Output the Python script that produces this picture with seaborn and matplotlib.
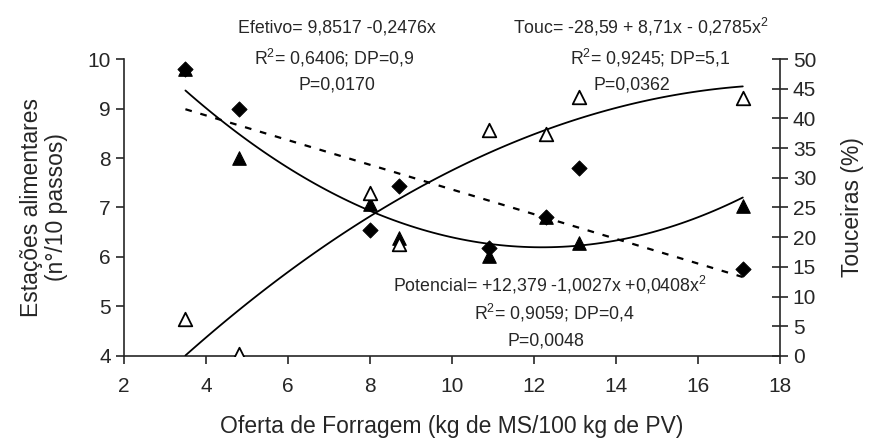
import matplotlib
matplotlib.use("Agg")
import matplotlib.pyplot as plt
import pandas as pd
import seaborn as sns

# forage allowance (kg DM / 100 kg LW)
oferta = [3.5, 4.8, 8.0, 8.7, 10.9, 12.3, 13.1, 17.1]
# feeding stations per 10 steps
efetivo = [9.8, 9.0, 6.55, 7.43, 6.18, 6.8, 7.8, 5.76]
potencial = [9.8, 8.0, 7.07, 6.38, 6.02, 6.81, 6.28, 7.03]
# tussocks (%)
touceiras = [6.2, 0.3, 27.4, 18.9, 38.1, 37.3, 43.6, 43.5]

df = pd.DataFrame({"x": oferta, "efetivo": efetivo,
                   "potencial": potencial, "touc": touceiras})

sns.set_style("ticks")
plt.rcParams["font.family"] = ["Liberation Sans", "DejaVu Sans"]
plt.rcParams["mathtext.fontset"] = "custom"
plt.rcParams["mathtext.rm"] = "Liberation Sans"
plt.rcParams["mathtext.it"] = "Liberation Sans:italic"

fig = plt.figure(figsize=(8.79, 4.41), dpi=100)
ax = fig.add_axes([0.141, 0.193, 0.746, 0.673])
ax2 = ax.twinx()

fs = 15
lfs = 16.5
k = "black"

# trend lines
sns.regplot(data=df, x="x", y="efetivo", order=1, ci=None, scatter=False, ax=ax,
            line_kws=dict(color=k, lw=1.6, ls=(0, (3, 4))))
sns.regplot(data=df, x="x", y="potencial", order=2, ci=None, scatter=False, ax=ax,
            line_kws=dict(color=k, lw=1.3))
sns.regplot(data=df, x="x", y="touc", order=2, ci=None, scatter=False, ax=ax2,
            line_kws=dict(color=k, lw=1.3))

# points
sns.scatterplot(data=df, x="x", y="efetivo", marker="D", s=60, color=k,
                edgecolor=k, ax=ax, zorder=3)
sns.scatterplot(data=df, x="x", y="potencial", marker="^", s=95, color=k,
                edgecolor=k, ax=ax, zorder=3)
sns.scatterplot(data=df, x="x", y="touc", marker="^", s=95, facecolor="white",
                edgecolor=k, linewidth=1.3, ax=ax2, zorder=3)

ax.set_xlim(2, 18)
ax.set_ylim(4, 10)
ax2.set_ylim(0, 50)
ax.set_xticks(range(2, 19, 2))
ax.set_yticks(range(4, 11))
ax2.set_yticks(range(0, 51, 5))

for a in (ax, ax2):
    a.spines["top"].set_visible(False)
    for s in a.spines.values():
        s.set_linewidth(1.2)
ax.spines["right"].set_visible(False)
ax2.spines["left"].set_visible(False)
ax2.spines["bottom"].set_visible(False)

ax.tick_params(axis="both", direction="out", length=6, width=1.2, labelsize=fs)
ax.tick_params(axis="x", pad=9)
ax2.tick_params(axis="y", direction="inout", length=12, width=1.2, labelsize=fs)

ax.set_xlabel("Oferta de Forragem (kg de MS/100 kg de PV)", fontsize=lfs, labelpad=14)
ax.set_ylabel("Estações alimentares\n(n°/10 passos)", fontsize=lfs, linespacing=1.1, labelpad=14)
ax2.set_ylabel("Touceiras (%)", fontsize=lfs, labelpad=18)

tfs = 12.8
ax.text(7.2, 10.62, "Efetivo= 9,8517 -0,2476x", ha="center", va="center", fontsize=tfs, clip_on=False)
ax.text(7.13, 10.03, "R$^{2}$= 0,6406; DP=0,9", ha="center", va="center", fontsize=tfs, clip_on=False)
ax.text(7.2, 9.48, "P=0,0170", ha="center", va="center", fontsize=tfs)

ax.text(14.62, 10.65, "Touc= -28,59 + 8,71x - 0,2785x$^{2}$", ha="center", va="center", fontsize=tfs, clip_on=False)
ax.text(14.85, 10.02, "R$^{2}$= 0,9245; DP=5,1", ha="center", va="center", fontsize=tfs, clip_on=False)
ax.text(14.4, 9.47, "P=0,0362", ha="center", va="center", fontsize=tfs)

ax.text(12.4, 5.43, "Potencial= +12,379 -1,0027x +0,0408x$^{2}$", ha="center", va="center", fontsize=tfs)
ax.text(12.5, 4.87, "R$^{2}$= 0,9059; DP=0,4", ha="center", va="center", fontsize=tfs)
ax.text(12.3, 4.3, "P=0,0048", ha="center", va="center", fontsize=tfs)

fig.savefig("out.png", dpi=100)
